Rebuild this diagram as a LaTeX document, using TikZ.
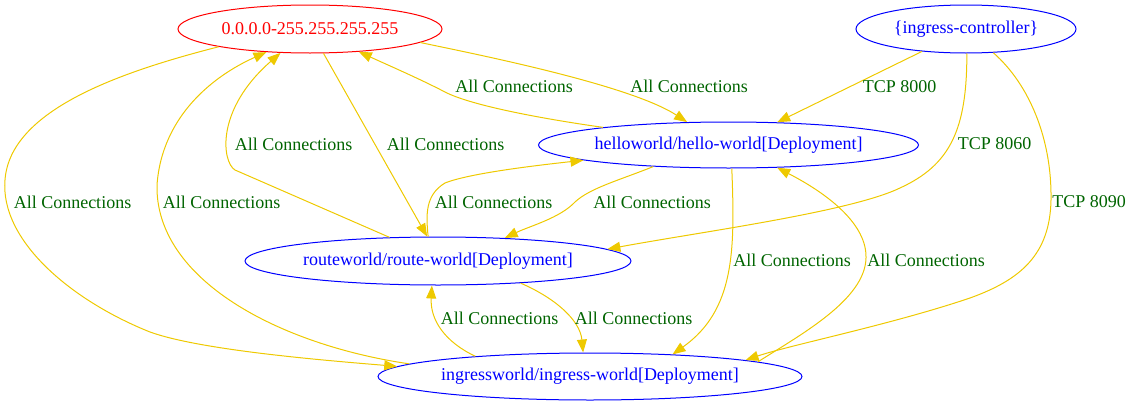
\documentclass[tikz,border=0pt]{standalone}
\usepackage{fontspec}
\setmainfont{Liberation Serif}
\usetikzlibrary{arrows.meta,shapes.geometric}
\definecolor{edgegold}{RGB}{238,201,0}
\definecolor{labgreen}{RGB}{0,100,0}
\definecolor{nodeblue}{RGB}{0,0,255}
\definecolor{nodered}{RGB}{255,0,0}
\begin{document}
\begin{tikzpicture}[x=1pt,y=-1pt,
  gnode/.style={draw=nodeblue, text=nodeblue, ellipse, line width=1pt, inner sep=0pt, font=\fontsize{18}{20}\selectfont},
  rnode/.style={gnode, draw=nodered, text=nodered},
  lab/.style={text=labgreen, inner sep=0pt, font=\fontsize{18}{20}\selectfont},
  edge/.style={draw=edgegold, line width=1pt, -{Triangle[length=13pt,width=10pt,fill=edgegold]}}]
\useasboundingbox (0,0) rectangle (1133,407);

% nodes
\node[rnode, minimum width=264pt, minimum height=48pt] (n0) at (310,29) {0.0.0.0-255.255.255.255};
\node[gnode, minimum width=220pt, minimum height=48pt] (ic) at (966,29) {\{ingress-controller\}};
\node[gnode, minimum width=380pt, minimum height=46pt] (hw) at (728.5,145) {helloworld/hello-world[Deployment]};
\node[gnode, minimum width=386pt, minimum height=48pt] (rw) at (438,261) {routeworld/route-world[Deployment]};
\node[gnode, minimum width=424pt, minimum height=47pt] (iw) at (590,376.5) {ingressworld/ingress-world[Deployment]};

% edges
\draw[edge] (n0.-7.3) .. controls (480,55) and (630,85) .. (hw.151);
\draw[edge] (hw.172.8) .. controls (530,117) and (468,104) .. (445,92) .. controls (420,79) and (390,66) .. (n0.-25.6);
\draw[edge] (ic.207.6) -- (hw.25.8);
\draw[edge] (ic.272) .. controls (967,130) and (950,165) .. (900,188) .. controls (850,212) and (700,232) .. (rw.4.1);
\draw[edge] (ic.-41.5) .. controls (1030,85) and (1052,140) .. (1051,200) .. controls (1050,255) and (1020,280) .. (970,298) .. controls (890,325) and (790,345) .. (iw.6.5);
\draw[edge] (n0.-61.6) -- (rw.114.6);
\draw[edge] (rw.154.8) -- (235,170) .. controls (222,162) and (215,110) .. (n0.219.4);
\draw[edge] (rw.112.6) .. controls (426,215) and (425,195) .. (445,183) .. controls (470,173) and (540,165) .. (hw.186);
\draw[edge] (hw.196.7) .. controls (620,180) and (590,188) .. (575,202) .. controls (560,218) and (530,226) .. (rw.19.8);
\draw[edge] (n0.191.1) .. controls (120,72) and (10,110) .. (5,180) .. controls (0,240) and (70,300) .. (150,332) .. controls (200,350) and (320,360) .. (iw.177);
\draw[edge] (iw.176.4) .. controls (280,345) and (155,280) .. (157,185) .. controls (162,115) and (215,75) .. (n0.208.1);
\draw[edge] (hw.278.7) .. controls (735,250) and (735,310) .. (iw.15.6);
\draw[edge] (iw.5.7) .. controls (800,335) and (865,300) .. (866,258) .. controls (867,225) and (830,195) .. (hw.335.1);
\draw[edge] (rw.-15.7) .. controls (555,298) and (580,320) .. (iw.106.6);
\draw[edge] (iw.170.5) .. controls (445,342) and (430,320) .. (rw.256);

% labels
\node[lab] (l1) at (689,86) {All Connections};
\node[lab] (l2) at (514,86) {All Connections};
\node[lab] (l3) at (899.5,87) {TCP 8000};
\node[lab] (l4) at (994.5,144) {TCP 8060};
\node[lab] (l5) at (1089,202) {TCP 8090};
\node[lab] (l6) at (445.5,144) {All Connections};
\node[lab] (l7) at (293.5,144) {All Connections};
\node[lab] (l8) at (493.5,202) {All Connections};
\node[lab] (l9) at (652,202) {All Connections};
\node[lab] (l10) at (72.5,202) {All Connections};
\node[lab] (l11) at (221.5,202) {All Connections};
\node[lab] (l12) at (792,260) {All Connections};
\node[lab] (l13) at (926,260) {All Connections};
\node[lab] (l14) at (633.5,318) {All Connections};
\node[lab] (l15) at (499.5,318) {All Connections};
\end{tikzpicture}
\end{document}
